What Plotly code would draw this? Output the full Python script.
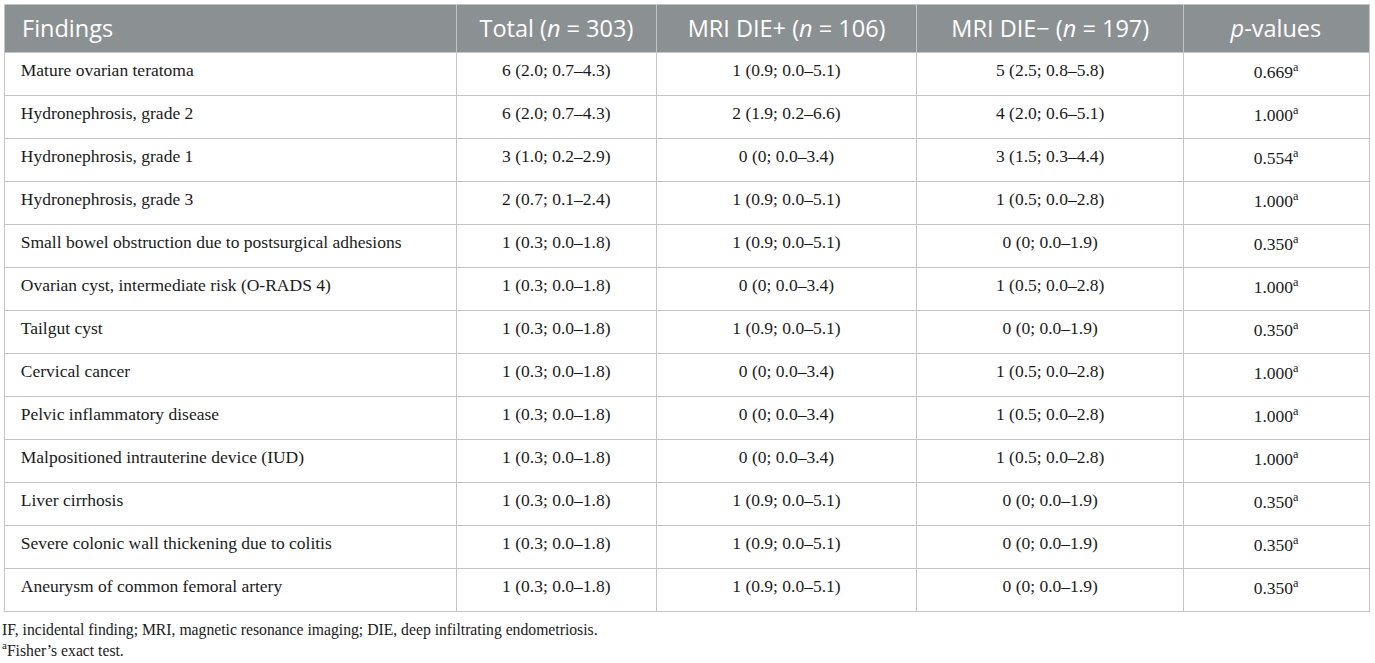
import plotly.graph_objects as go

# Table content
findings = [
    "Mature ovarian teratoma",
    "Hydronephrosis, grade 2",
    "Hydronephrosis, grade 1",
    "Hydronephrosis, grade 3",
    "Small bowel obstruction due to postsurgical adhesions",
    "Ovarian cyst, intermediate risk (O-RADS 4)",
    "Tailgut cyst",
    "Cervical cancer",
    "Pelvic inflammatory disease",
    "Malpositioned intrauterine device (IUD)",
    "Liver cirrhosis",
    "Severe colonic wall thickening due to colitis",
    "Aneurysm of common femoral artery",
]
total = [
    "6 (2.0; 0.7–4.3)", "6 (2.0; 0.7–4.3)", "3 (1.0; 0.2–2.9)", "2 (0.7; 0.1–2.4)",
    "1 (0.3; 0.0–1.8)", "1 (0.3; 0.0–1.8)", "1 (0.3; 0.0–1.8)", "1 (0.3; 0.0–1.8)",
    "1 (0.3; 0.0–1.8)", "1 (0.3; 0.0–1.8)", "1 (0.3; 0.0–1.8)", "1 (0.3; 0.0–1.8)",
    "1 (0.3; 0.0–1.8)",
]
die_pos = [
    "1 (0.9; 0.0–5.1)", "2 (1.9; 0.2–6.6)", "0 (0; 0.0–3.4)", "1 (0.9; 0.0–5.1)",
    "1 (0.9; 0.0–5.1)", "0 (0; 0.0–3.4)", "1 (0.9; 0.0–5.1)", "0 (0; 0.0–3.4)",
    "0 (0; 0.0–3.4)", "0 (0; 0.0–3.4)", "1 (0.9; 0.0–5.1)", "1 (0.9; 0.0–5.1)",
    "1 (0.9; 0.0–5.1)",
]
die_neg = [
    "5 (2.5; 0.8–5.8)", "4 (2.0; 0.6–5.1)", "3 (1.5; 0.3–4.4)", "1 (0.5; 0.0–2.8)",
    "0 (0; 0.0–1.9)", "1 (0.5; 0.0–2.8)", "0 (0; 0.0–1.9)", "1 (0.5; 0.0–2.8)",
    "1 (0.5; 0.0–2.8)", "1 (0.5; 0.0–2.8)", "0 (0; 0.0–1.9)", "0 (0; 0.0–1.9)",
    "0 (0; 0.0–1.9)",
]
p_values = [0.669, 1.000, 0.554, 1.000, 0.350, 1.000, 0.350,
            1.000, 1.000, 1.000, 0.350, 0.350, 0.350]

headers = [
    "Findings",
    "Total (<i>n</i> = 303)",
    "MRI DIE+ (<i>n</i> = 106)",
    "MRI DIE− (<i>n</i> = 197)",
    "<i>p</i>-values",
]

NB = "\u00a0"


def span(s, pad=""):
    # wrapping in a tag keeps every cell on the same text offset
    return f"<span>{pad}{s}</span>"


fig = go.Figure()

fig.add_trace(go.Table(
    columnwidth=[452, 200, 260, 267, 185],
    domain=dict(x=[4 / 1375, 1369 / 1375], y=[0, 1 - 4 / 663]),
    header=dict(
        values=[span(headers[0], NB + "\u2009")] + [span(h) for h in headers[1:]],
        fill_color="#8b9092",
        line=dict(color="#c4c4c4", width=1),
        align=["left", "center", "center", "center", "center"],
        font=dict(family="Open Sans", size=23.5, color="white"),
        height=44,
    ),
    cells=dict(
        values=[[span(f, NB * 2) for f in findings],
                [span(v) for v in total],
                [span(v) for v in die_pos],
                [span(v) for v in die_neg],
                [span(f"{p:.3f}<sup>a</sup>") for p in p_values]],
        fill_color="white",
        line=dict(color="#c4c4c4", width=1),
        align=["left", "center", "center", "center", "center"],
        font=dict(family="Liberation Serif", size=17.5, color="#1a1a1a"),
        height=43,
    ),
))

fig.add_annotation(
    text="IF, incidental finding; MRI, magnetic resonance imaging; DIE, deep infiltrating endometriosis.",
    xref="paper", yref="paper", x=0, y=(663 - 630) / 663,
    xanchor="left", yanchor="middle", showarrow=False,
    font=dict(family="Liberation Serif", size=15.7, color="#1a1a1a"),
)
fig.add_annotation(
    text="<sup>a</sup>Fisher’s exact test.",
    xref="paper", yref="paper", x=0, y=(663 - 649) / 663,
    xanchor="left", yanchor="middle", showarrow=False,
    font=dict(family="Liberation Serif", size=15.7, color="#1a1a1a"),
)

fig.update_layout(
    width=1375,
    height=663,
    margin=dict(l=0, r=0, t=0, b=0),
    paper_bgcolor="white",
    plot_bgcolor="white",
)

# the page body carries a default 8px margin; drop it so the figure sits at 0,0
fig.write_html("out.html", config={"displayModeBar": False},
               post_script="document.body.style.margin = '0';")
